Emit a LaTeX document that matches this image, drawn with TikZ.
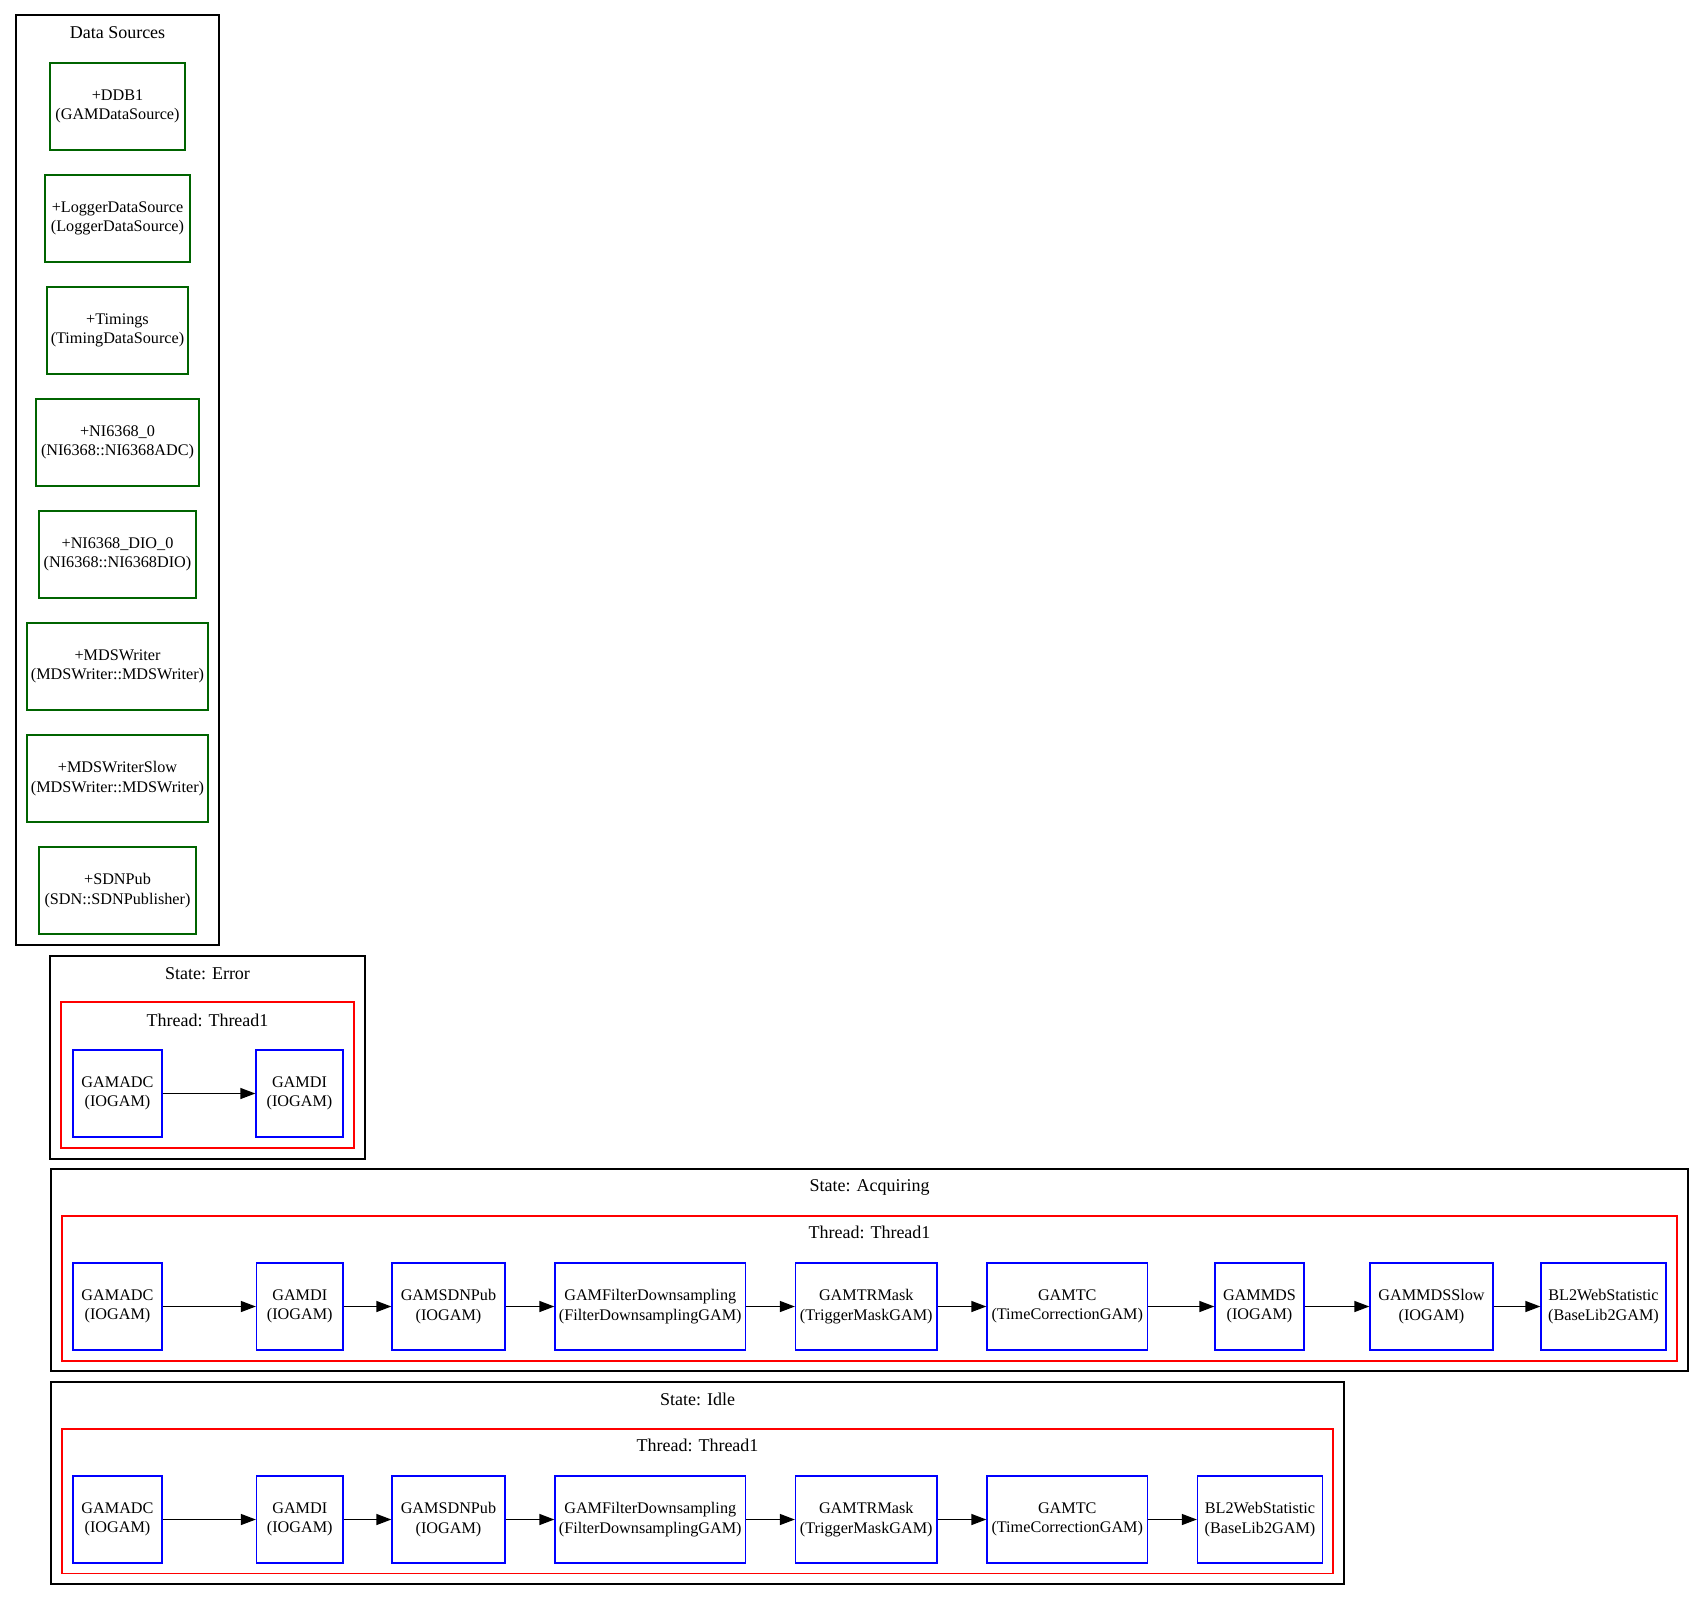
\documentclass[tikz,border=0pt]{standalone}
\usepackage{fontspec}
\setmainfont{Liberation Serif}
\usetikzlibrary{arrows.meta}
\definecolor{dsgreen}{RGB}{0,100,0}
\tikzset{
  pbox/.style n args={4}{at={({(#1+#3)/2},{(#2+#4)/2})}, anchor=center,
     minimum width={(#3-#1)*0.5pt}, minimum height={(#4-#2)*0.5pt},
     inner sep=0pt, align=center,
     font=\fontsize{8.1}{9.8}\selectfont},
  cluster/.style={draw=black, line width=0.65pt},
  thread/.style={draw=red, line width=0.65pt},
  dsbox/.style={draw=dsgreen, line width=0.65pt},
  gambox/.style={draw=blue, line width=0.65pt},
  ctitle/.style={inner sep=0pt, font=\fontsize{9}{11}\selectfont},
  flow/.style={-{Triangle[length=7.5pt,width=5.5pt]}, line width=0.65pt, black},
}
\begin{document}
\begin{tikzpicture}[x=0.5pt,y=-0.5pt]
\useasboundingbox (0,0) rectangle (1704,1601);
% Data sources
\node[cluster, pbox={16}{15}{219}{945}] (dscl) {};
\node[ctitle] (dstitle) at (117.5,33) {Data Sources};
\node[dsbox, pbox={50}{63}{185}{150}] (ddb) {+DDB1\\ (GAMDataSource)};
\node[dsbox, pbox={45}{175}{190}{262}] (logger) {+LoggerDataSource\\ (LoggerDataSource)};
\node[dsbox, pbox={47}{287}{188}{374}] (timings) {+Timings\\ (TimingDataSource)};
\node[dsbox, pbox={36}{399}{199}{486}] (nizero) {+NI6368\_0\\ (NI6368::NI6368ADC)};
\node[dsbox, pbox={39}{511}{196}{598}] (nidio) {+NI6368\_DIO\_0\\ (NI6368::NI6368DIO)};
\node[dsbox, pbox={27}{623}{208}{710}] (mdsw) {+MDSWriter\\ (MDSWriter::MDSWriter)};
\node[dsbox, pbox={27}{735}{208}{822}] (mdsws) {+MDSWriterSlow\\ (MDSWriter::MDSWriter)};
\node[dsbox, pbox={39}{847}{196}{934}] (sdn) {+SDNPub\\ (SDN::SDNPublisher)};
% Error
\node[cluster, pbox={50}{956}{365}{1159}] (errcl) {};
\node[ctitle] (errtitle) at (207.5,974) {State: Error};
\node[thread, pbox={61}{1002}{354}{1148}] (errth) {};
\node[ctitle] (errthtitle) at (207.5,1020.5) {Thread: Thread1};
\node[gambox, pbox={73}{1050}{162}{1137}] (eadc) {GAMADC\\ (IOGAM)};
\node[gambox, pbox={256}{1050}{343}{1137}] (edi) {GAMDI\\ (IOGAM)};
\draw[flow] (eadc) -- (edi);
% Acquiring
\node[cluster, pbox={51}{1169}{1688}{1371}] (acqcl) {};
\node[ctitle] (acqtitle) at (869.5,1187) {State: Acquiring};
\node[thread, pbox={62}{1216}{1677}{1361}] (acqth) {};
\node[ctitle] (acqthtitle) at (869.5,1232) {Thread: Thread1};
\node[gambox, pbox={73}{1263}{162}{1350}] (aadc) {GAMADC\\ (IOGAM)};
\node[gambox, pbox={256.5}{1263}{343}{1350}] (adi) {GAMDI\\ (IOGAM)};
\node[gambox, pbox={392}{1263}{505}{1350}] (asdn) {GAMSDNPub\\ (IOGAM)};
\node[gambox, pbox={555}{1263}{745.5}{1350}] (afd) {GAMFilterDownsampling\\ (FilterDownsamplingGAM)};
\node[gambox, pbox={795.5}{1263}{937}{1350}] (atr) {GAMTRMask\\ (TriggerMaskGAM)};
\node[gambox, pbox={987}{1263}{1147.5}{1350}] (atc) {GAMTC\\ (TimeCorrectionGAM)};
\node[gambox, pbox={1215}{1263}{1304}{1350}] (amds) {GAMMDS\\ (IOGAM)};
\node[gambox, pbox={1370}{1263}{1493}{1350}] (amdss) {GAMMDSSlow\\ (IOGAM)};
\node[gambox, pbox={1541}{1263}{1666}{1350}] (abl) {BL2WebStatistic\\ (BaseLib2GAM)};
\draw[flow] (aadc) -- (adi);
\draw[flow] (adi) -- (asdn);
\draw[flow] (asdn) -- (afd);
\draw[flow] (afd) -- (atr);
\draw[flow] (atr) -- (atc);
\draw[flow] (atc) -- (amds);
\draw[flow] (amds) -- (amdss);
\draw[flow] (amdss) -- (abl);
% Idle
\node[cluster, pbox={51}{1382}{1344}{1584}] (idlecl) {};
\node[ctitle] (idletitle) at (697.5,1399.5) {State: Idle};
\node[thread, pbox={62}{1429}{1333}{1573.5}] (idleth) {};
\node[ctitle] (idlethtitle) at (697.5,1445) {Thread: Thread1};
\node[gambox, pbox={73}{1476}{162}{1563}] (iadc) {GAMADC\\ (IOGAM)};
\node[gambox, pbox={256.5}{1476}{343}{1563}] (idi) {GAMDI\\ (IOGAM)};
\node[gambox, pbox={392}{1476}{505}{1563}] (isdn) {GAMSDNPub\\ (IOGAM)};
\node[gambox, pbox={555}{1476}{745.5}{1563}] (ifd) {GAMFilterDownsampling\\ (FilterDownsamplingGAM)};
\node[gambox, pbox={795.5}{1476}{937}{1563}] (itr) {GAMTRMask\\ (TriggerMaskGAM)};
\node[gambox, pbox={987}{1476}{1147.5}{1563}] (itc) {GAMTC\\ (TimeCorrectionGAM)};
\node[gambox, pbox={1197.5}{1476}{1322.5}{1563}] (ibl) {BL2WebStatistic\\ (BaseLib2GAM)};
\draw[flow] (iadc) -- (idi);
\draw[flow] (idi) -- (isdn);
\draw[flow] (isdn) -- (ifd);
\draw[flow] (ifd) -- (itr);
\draw[flow] (itr) -- (itc);
\draw[flow] (itc) -- (ibl);
\end{tikzpicture}
\end{document}
